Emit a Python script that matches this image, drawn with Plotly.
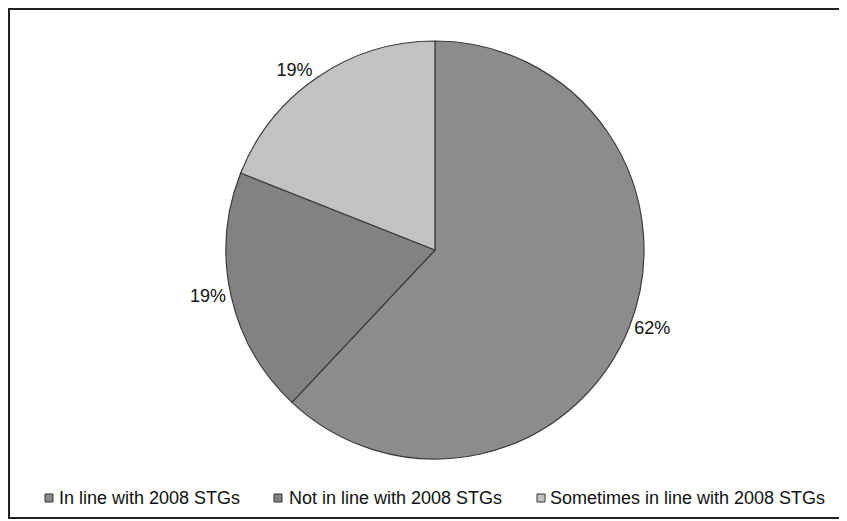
import plotly.graph_objects as go

labels = ["In line with 2008 STGs", "Not in line with 2008 STGs", "Sometimes in line with 2008 STGs"]
values = [62, 19, 19]
colors = ["#8c8c8c", "#828282", "#c2c2c2"]

W, H = 847, 521
OFF = 8  # page body margin offset
cx, cy, r = 435 - OFF, 250 - OFF, 209

FONT = "Liberation Sans, Arial, sans-serif"

fig = go.Figure(go.Pie(
    labels=labels,
    values=values,
    sort=False,
    direction="clockwise",
    rotation=0,
    marker=dict(colors=colors, line=dict(color="#3a3a3a", width=1.2)),
    textinfo="percent",
    texttemplate="%{percent:.0%}",
    textposition="outside",
    textfont=dict(family=FONT, size=18, color="#111"),
    domain=dict(x=[(cx - r) / W, (cx + r) / W], y=[(H - cy - r) / H, (H - cy + r) / H]),
    showlegend=False,
))

# manual legend (positions of the legend entries)
leg_sq_x = [49, 278, 541]
leg_tx_x = [57, 287, 548]
leg_y = 498
shapes = [dict(
    type="rect", xref="paper", yref="paper",
    x0=1 / W, x1=(W + 20) / W, y0=1 - (518 - OFF) / H, y1=1 - (9 - OFF) / H,
    line=dict(color="#222", width=2),
)]
annotations = []
for lab, col, sx, tx in zip(labels, colors, leg_sq_x, leg_tx_x):
    sx -= OFF
    tx -= OFF
    yy = leg_y - OFF
    shapes.append(dict(
        type="rect", xref="paper", yref="paper",
        x0=(sx - 4) / W, x1=(sx + 4) / W, y0=1 - (yy + 4) / H, y1=1 - (yy - 4) / H,
        fillcolor=col, line=dict(color="#333", width=1),
    ))
    annotations.append(dict(
        text=lab, xref="paper", yref="paper", x=tx / W, y=1 - yy / H,
        xanchor="left", yanchor="middle", showarrow=False,
        font=dict(family=FONT, size=18, color="#111"),
    ))

fig.update_layout(
    width=W, height=H,
    margin=dict(l=0, r=0, t=0, b=0),
    paper_bgcolor="white",
    plot_bgcolor="white",
    font=dict(family=FONT, size=18, color="#111"),
    showlegend=False,
    shapes=shapes,
    annotations=annotations,
)

fig.write_html("out.html")
